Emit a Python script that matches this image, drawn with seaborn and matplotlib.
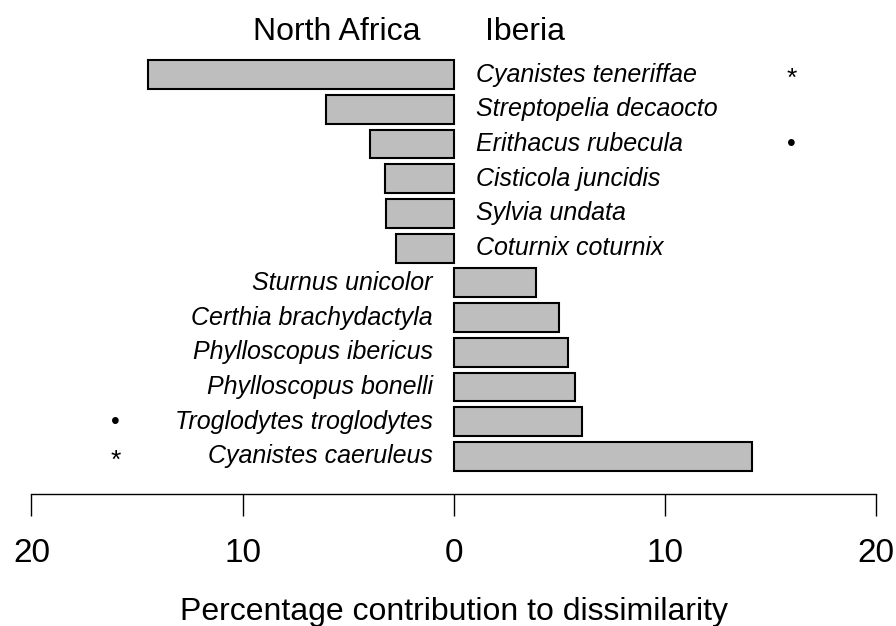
import matplotlib
matplotlib.use("Agg")
import matplotlib.pyplot as plt
import seaborn as sns
import pandas as pd

species = ["Cyanistes teneriffae", "Streptopelia decaocto", "Erithacus rubecula",
           "Cisticola juncidis", "Sylvia undata", "Coturnix coturnix",
           "Sturnus unicolor", "Certhia brachydactyla", "Phylloscopus ibericus",
           "Phylloscopus bonelli", "Troglodytes troglodytes", "Cyanistes caeruleus"]
# negative = North Africa, positive = Iberia
contribution = [-14.47, -6.03, -3.95, -3.25, -3.22, -2.75,
                3.91, 5.01, 5.39, 5.76, 6.09, 14.15]
markers = ["*", "", "•", "", "", "", "", "", "", "", "•", "*"]
tick_values = [-20, -10, 0, 10, 20]
tick_labels = ["20", "10", "0", "10", "20"]
headers = ["North Africa", "Iberia"]

sns.set_style("white")
plt.rcParams['font.family'] = ['Liberation Sans', 'DejaVu Sans']
plt.rcParams['text.color'] = 'black'
plt.rcParams['axes.labelcolor'] = 'black'
plt.rcParams['xtick.color'] = 'black'

df = pd.DataFrame({"species": species, "value": contribution})

fig = plt.figure(figsize=(8.96, 6.26), dpi=100)
ax = fig.add_axes([31.4 / 896, 1 - 494 / 626, (876 - 31.4) / 896, (494 - 10) / 626])

sns.barplot(data=df, x="value", y="species", orient="h", color="#BEBEBE",
            saturation=1, edgecolor="black", linewidth=1.5, width=0.83, ax=ax)

ax.set_xlim(-20, 20)
ax.set_ylim(12.08, -1.858)

for i, (sp, v, m) in enumerate(zip(species, contribution, markers)):
    if v < 0:
        ax.text(1.05, i, sp, style="italic", fontsize=18, ha="left", va="center")
        if m:
            ax.text(16.0, i + (0.12 if m == "*" else 0.0), m,
                    fontsize=19 if m == "*" else 18, ha="center", va="center")
    else:
        ax.text(-1.0, i, sp, style="italic", fontsize=18, ha="right", va="center")
        if m:
            ax.text(-16.0, i + (0.12 if m == "*" else 0.0), m,
                    fontsize=19 if m == "*" else 18, ha="center", va="center")

ax.text(-1.55, -1.22, headers[0], fontsize=23, ha="right", va="center")
ax.text(1.5, -1.22, headers[1], fontsize=23, ha="left", va="center")

ax.set_xticks(tick_values)
ax.set_xticklabels(tick_labels, fontsize=24)
ax.tick_params(axis="x", direction="out", length=16, width=1, pad=16, bottom=True)
ax.set_yticks([])
ax.set_ylabel("")
ax.set_xlabel("Percentage contribution to dissimilarity", fontsize=23, labelpad=20)
for s in ["top", "left", "right"]:
    ax.spines[s].set_visible(False)
ax.spines["bottom"].set_linewidth(1)
ax.spines["bottom"].set_color("black")

fig.savefig("out.png", dpi=100)
